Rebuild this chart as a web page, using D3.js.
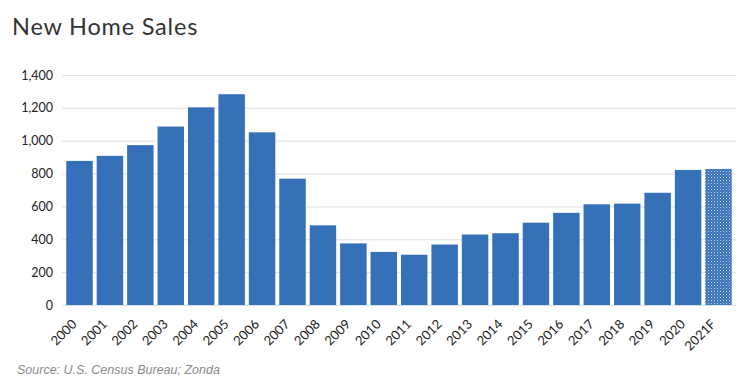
<!DOCTYPE html>
<html>
<head>
<meta charset="utf-8">
<script src="https://cdn.jsdelivr.net/npm/d3@7"></script>
<style>
  html, body { margin: 0; padding: 0; background: #fff; }
  svg { display: block; }
</style>
</head>
<body>
<svg id="chart" width="750" height="388"></svg>
<script>
const categories = ["2000","2001","2002","2003","2004","2005","2006","2007","2008","2009","2010","2011","2012","2013","2014","2015","2016","2017","2018","2019","2020","2021F"];
const sales = [877, 908, 973, 1086, 1203, 1283, 1051, 769, 485, 375, 323, 306, 368, 429, 437, 501, 561, 613, 617, 683, 822, 828];
const forecastCategories = ["2021F"];
const yTicks = [0, 200, 400, 600, 800, 1000, 1200, 1400];
const titleText = "New Home Sales";
const sourceText = "Source: U.S. Census Bureau; Zonda";

const svg = d3.select("#chart");
const margin = { left: 62, right: 14, top: 75, bottom: 83 };
const W = 750, H = 388;

const x = d3.scaleBand().domain(categories).range([margin.left, W - margin.right]).paddingInner(0.13).paddingOuter(0.14);
const y = d3.scaleLinear().domain([0, 1400]).range([H - margin.bottom, margin.top]);

const defs = svg.append("defs");
const pat = defs.append("pattern").attr("id", "dots").attr("patternUnits", "userSpaceOnUse")
  .attr("width", 3).attr("height", 3);
pat.append("rect").attr("width", 3).attr("height", 3).attr("fill", "#3570b9");
pat.append("rect").attr("x", 0).attr("y", 0).attr("width", 1).attr("height", 1).attr("fill", "#ffffff").attr("opacity", 0.75);
pat.append("rect").attr("x", 1.5).attr("y", 1.5).attr("width", 1).attr("height", 1).attr("fill", "#ffffff").attr("opacity", 0.45);

// grid
svg.append("g").selectAll("line").data(yTicks.filter(d => d > 0)).join("line")
  .attr("x1", margin.left).attr("x2", W - margin.right)
  .attr("y1", d => y(d) + 0.5).attr("y2", d => y(d) + 0.5)
  .attr("stroke", "#e0e0e0").attr("stroke-width", 1);

// y axis
const yAxis = d3.axisLeft(y).tickValues(yTicks).tickSize(0).tickPadding(8).tickFormat(d3.format(","));
const yg = svg.append("g").attr("transform", `translate(${margin.left},0)`).call(yAxis);
yg.select(".domain").remove();
yg.selectAll("text").attr("font-family", "Lato, sans-serif").attr("font-size", 12.5).attr("fill", "#222").attr("x", -9);

// bars
svg.append("g").selectAll("rect").data(categories).join("rect")
  .attr("x", d => x(d))
  .attr("width", x.bandwidth())
  .attr("y", (d, i) => y(sales[i]))
  .attr("height", (d, i) => y(0) - y(sales[i]))
  .attr("fill", d => forecastCategories.includes(d) ? "url(#dots)" : "#3570b9");

// baseline
svg.append("line").attr("x1", margin.left).attr("x2", W - margin.right)
  .attr("y1", y(0) + 0.5).attr("y2", y(0) + 0.5).attr("stroke", "#d6e0ee").attr("stroke-width", 1);

// x axis
const xAxis = d3.axisBottom(x).tickSize(0).tickPadding(0);
const xg = svg.append("g").attr("transform", `translate(0,${y(0)})`).call(xAxis);
xg.select(".domain").remove();
xg.selectAll("text")
  .attr("font-family", "Lato, sans-serif").attr("font-size", 13).attr("fill", "#222")
  .attr("text-anchor", "end").attr("dy", null).attr("y", 0)
  .attr("transform", "translate(-2,20) rotate(-45)");

// title
svg.append("text").attr("x", 12).attr("y", 35).text(titleText)
  .attr("font-family", "Lato, sans-serif").attr("font-size", 23.5).attr("letter-spacing", 0.8).attr("fill", "#333");

// source
svg.append("text").attr("x", 17).attr("y", 374).text(sourceText)
  .attr("font-family", "'Liberation Sans', Arial, sans-serif").attr("font-style", "italic")
  .attr("font-size", 12.5).attr("fill", "#8a8a8a");
</script>
</body>
</html>
